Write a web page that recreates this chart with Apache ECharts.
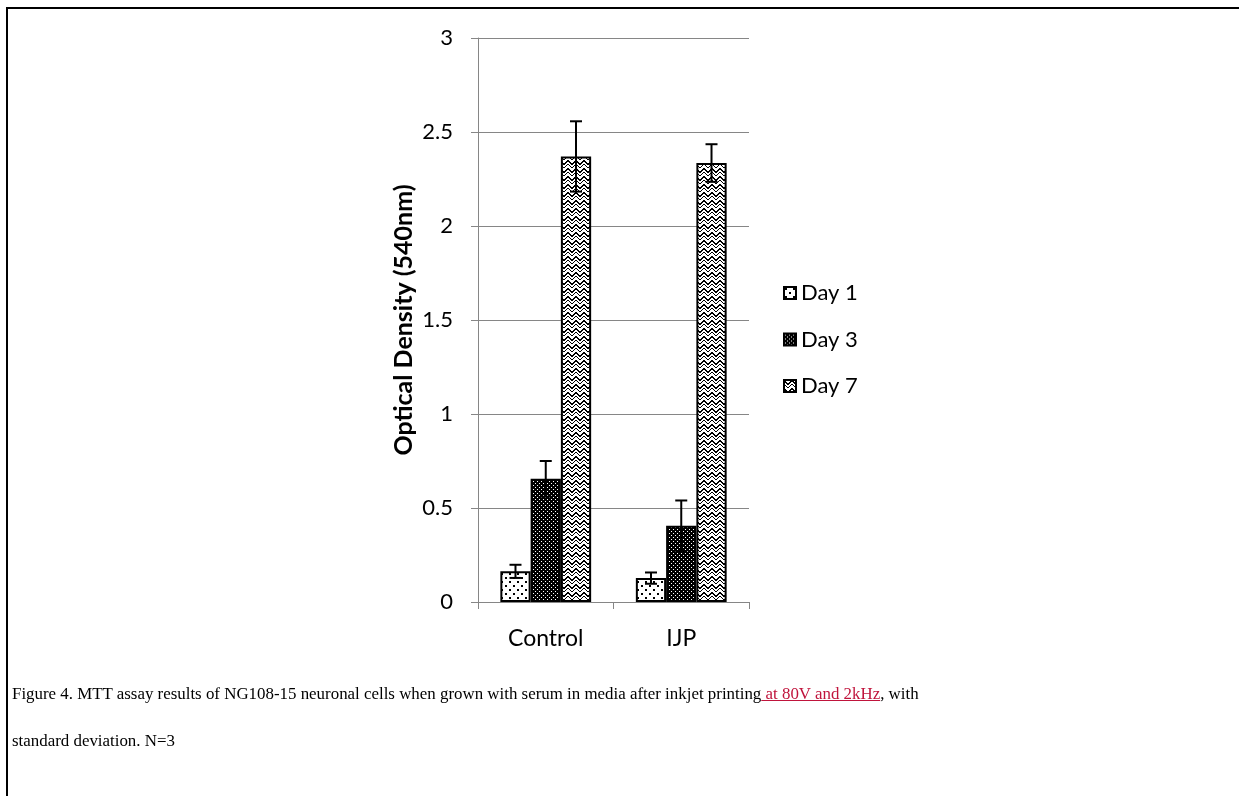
<!DOCTYPE html>
<html>
<head>
<meta charset="utf-8">
<script src="https://cdn.jsdelivr.net/npm/echarts@6/dist/echarts.min.js"></script>
<style>
html,body{margin:0;padding:0;background:#fff;}
#wrap{position:relative;width:1239px;height:796px;overflow:hidden;}
#chart{position:absolute;left:0;top:0;width:1239px;height:796px;}
#frame{position:absolute;left:6px;top:7px;right:-10px;bottom:-10px;border-top:2px solid #000;border-left:2px solid #000;pointer-events:none;}
#caption{position:absolute;left:12px;top:670px;font-family:"Liberation Serif","Times New Roman",serif;font-size:16.9px;line-height:47px;color:#000;white-space:nowrap;}
#caption .lnk{color:#c0143c;text-decoration:underline;}
</style>
</head>
<body>
<div id="wrap">
  <div id="chart"></div>
  <div id="frame"></div>
  <div id="caption">Figure 4. MTT assay results of NG108-15 neuronal cells when grown with serum in media after inkjet printing<span class="lnk"> at 80V and 2kHz</span>, with<br>standard deviation. N=3</div>
</div>
<script>
// ---- data ----
const categories = ['Control', 'IJP'];
const seriesNames = ['Day 1', 'Day 3', 'Day 7'];
const day1 = [0.163, 0.127];
const day3 = [0.655, 0.405];
const day7 = [2.37, 2.335];
const day1Err = [0.035, 0.03];
const day3Err = [0.095, 0.135];
const day7Err = [0.187, 0.1];
const yTicks = [0, 0.5, 1, 1.5, 2, 2.5, 3];

// ---- patterns ----
function makeTile(w, h, draw) {
  const c = document.createElement('canvas');
  c.width = w; c.height = h;
  const g = c.getContext('2d');
  draw(g, w, h);
  return c;
}
const patDots = makeTile(8, 8, (g) => {
  g.fillStyle = '#fff'; g.fillRect(0, 0, 8, 8);
  g.fillStyle = '#000';
  g.fillRect(1, 1, 2, 2);
  g.fillRect(5, 5, 2, 2);
});
const patDense = makeTile(4, 4, (g) => {
  g.fillStyle = '#000'; g.fillRect(0, 0, 4, 4);
  g.fillStyle = '#fff';
  g.fillRect(1, 1, 1, 1);
  g.fillRect(3, 3, 1, 1);
});
const patZig = makeTile(8, 8, (g) => {
  g.fillStyle = '#fff'; g.fillRect(0, 0, 8, 8);
  g.fillStyle = '#000';
  for (let i = 0; i < 8; i++) {
    const y = i < 4 ? i : 7 - i;
    g.fillRect(i, y, 1, 2);
    g.fillRect(i, y + 4, 1, 1);
  }
});
const patterns = [patDots, patDense, patZig];

const values = [day1, day3, day7];
const errs = [day1Err, day3Err, day7Err];
const GAP = 0.33;
const FONT = 'Lato';

const barSeries = seriesNames.map((name, i) => ({
  name: name,
  type: 'bar',
  data: values[i],
  barGap: '0%',
  barCategoryGap: (GAP * 100) + '%',
  itemStyle: {
    color: { image: patterns[i], repeat: 'repeat' },
    borderColor: '#000',
    borderWidth: 2
  },
  emphasis: { disabled: true },
  z: 2
}));

const errSeries = seriesNames.map((name, i) => ({
  name: name + ' err',
  type: 'custom',
  data: values[i].map((v, j) => [j, v, errs[i][j]]),
  z: 5,
  silent: true,
  renderItem: function (params, api) {
    const cat = api.value(0), v = api.value(1), e = api.value(2);
    const catW = api.size([1, 0])[0];
    const barW = catW * (1 - GAP) / 3;
    const c = api.coord([cat, v]);
    const x = c[0] + (i - 1) * barW;
    const yt = api.coord([cat, v + e])[1];
    const yb = api.coord([cat, v - e])[1];
    const cap = 6;
    const st = { stroke: '#000', lineWidth: 2 };
    return {
      type: 'group',
      children: [
        { type: 'line', shape: { x1: x, y1: yt, x2: x, y2: yb }, style: st },
        { type: 'line', shape: { x1: x - cap, y1: yt, x2: x + cap, y2: yt }, style: st },
        { type: 'line', shape: { x1: x - cap, y1: yb, x2: x + cap, y2: yb }, style: st }
      ]
    };
  }
}));

const chart = echarts.init(document.getElementById('chart'));
chart.setOption({
  animation: false,
  backgroundColor: 'transparent',
  textStyle: { fontFamily: FONT },
  grid: { left: 478, right: 490, top: 38, bottom: 194, containLabel: false },
  legend: {
    data: seriesNames,
    orient: 'vertical',
    left: 783,
    top: 282,
    padding: 0,
    itemGap: 24.5,
    itemWidth: 12,
    itemHeight: 12,
    icon: 'rect',
    textStyle: { fontFamily: FONT, fontSize: 22, color: '#000' },
    selectedMode: false
  },
  xAxis: {
    type: 'category',
    data: categories,
    axisLine: { lineStyle: { color: '#868686', width: 1 } },
    axisTick: { show: true, length: 7, lineStyle: { color: '#868686' } },
    axisLabel: { fontFamily: FONT, fontSize: 23, color: '#000', margin: 25 }
  },
  yAxis: {
    type: 'value',
    min: yTicks[0],
    max: yTicks[yTicks.length - 1],
    interval: 0.5,
    name: 'Optical Density (540nm)',
    nameLocation: 'middle',
    nameGap: 61.5,
    nameTextStyle: { fontFamily: FONT, fontSize: 25, fontWeight: 'bold', color: '#000' },
    axisLine: { show: true, lineStyle: { color: '#868686', width: 1 } },
    axisTick: { show: true, length: 7, lineStyle: { color: '#868686' } },
    splitLine: { lineStyle: { color: '#868686', width: 1 } },
    axisLabel: { fontFamily: FONT, fontSize: 22, color: '#000', margin: 25 }
  },
  series: barSeries.concat(errSeries)
});
</script>
</body>
</html>
